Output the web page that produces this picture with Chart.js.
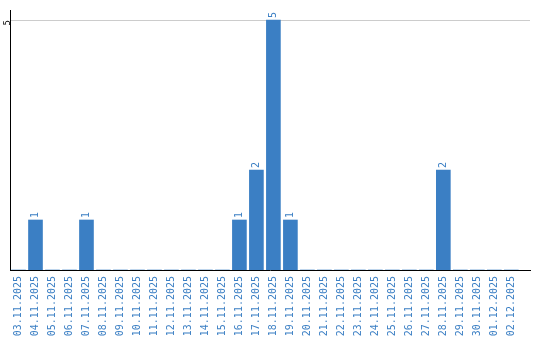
<!DOCTYPE html>
<html>
<head>
<meta charset="utf-8">
<script src="https://cdn.jsdelivr.net/npm/chart.js@4/dist/chart.umd.min.js"></script>
<style>
  html, body { margin: 0; padding: 0; background: #fff; }
  #wrap { width: 540px; height: 340px; }
</style>
</head>
<body>
<div id="wrap"><canvas id="chart"></canvas></div>
<script>
// daily counts, 03.11.2025 - 02.12.2025

const dateLabels = [
    "03.11.2025", "04.11.2025", "05.11.2025", "06.11.2025", "07.11.2025",
    "08.11.2025", "09.11.2025", "10.11.2025", "11.11.2025", "12.11.2025",
    "13.11.2025", "14.11.2025", "15.11.2025", "16.11.2025", "17.11.2025",
    "18.11.2025", "19.11.2025", "20.11.2025", "21.11.2025", "22.11.2025",
    "23.11.2025", "24.11.2025", "25.11.2025", "26.11.2025", "27.11.2025",
    "28.11.2025", "29.11.2025", "30.11.2025", "01.12.2025", "02.12.2025"
];

const counts = [
    0, 1, 0, 0, 1,
    0, 0, 0, 0, 0,
    0, 0, 0, 1, 2,
    5, 1, 0, 0, 0,
    0, 0, 0, 0, 0,
    2, 0, 0, 0, 0
];

const yTicks = [5];

const blue = "#3b7fc4";
const monoFont = "DejaVu Sans Mono";

// rotated value labels above each bar
const barValueLabels = {
    id: "barValueLabels",
    afterDatasetsDraw(chart) {
        const c = chart.ctx;
        const meta = chart.getDatasetMeta(0);
        c.save();
        c.fillStyle = blue;
        c.font = "10px '" + monoFont + "'";
        c.textAlign = "left";
        c.textBaseline = "middle";
        meta.data.forEach((bar, i) => {
            const v = counts[i];
            if (!v) return;
            c.save();
            c.translate(bar.x, bar.y - 2);
            c.rotate(-Math.PI / 2);
            c.fillText(String(v), 0, 0);
            c.restore();
        });
        c.restore();
    }
};

new Chart(document.getElementById("chart"), {
    type: "bar",
    data: {
        datasets: [{
            data: counts.map((v, i) => ({ x: i, y: v })),
            backgroundColor: blue,
            borderWidth: 0,
            barThickness: 14
        }]
    },
    options: {
        responsive: true,
        maintainAspectRatio: false,
        animation: false,
        layout: { padding: { top: 10, right: 10, left: 0, bottom: 0 } },
        plugins: {
            legend: { display: false },
            tooltip: { enabled: false }
        },
        scales: {
            x: {
                type: "linear",
                offset: false,
                min: -0.5,
                max: 30.1,
                grid: { display: false, drawTicks: false },
                border: { color: "#000", width: 1 },
                afterBuildTicks: (s) => { s.ticks = dateLabels.map((_, i) => ({ value: i })); },
                afterFit: (s) => { s.height = 70; },
                ticks: {
                    autoSkip: false,
                    minRotation: 90,
                    maxRotation: 90,
                    padding: 6,
                    color: blue,
                    font: { family: monoFont, size: 10 },
                    callback: (v) => dateLabels[v]
                }
            },
            y: {
                min: 0,
                max: 5.2,
                grid: { color: "#cccccc", drawTicks: false },
                border: { color: "#000", width: 1 },
                afterBuildTicks: (s) => { s.ticks = yTicks.map(v => ({ value: v })); },
                afterFit: (s) => { s.width = 10; },
                ticks: {
                    minRotation: 90,
                    maxRotation: 90,
                    padding: 2,
                    color: "#000",
                    font: { family: monoFont, size: 9 }
                }
            }
        }
    },
    plugins: [barValueLabels]
});
</script>
</body>
</html>
